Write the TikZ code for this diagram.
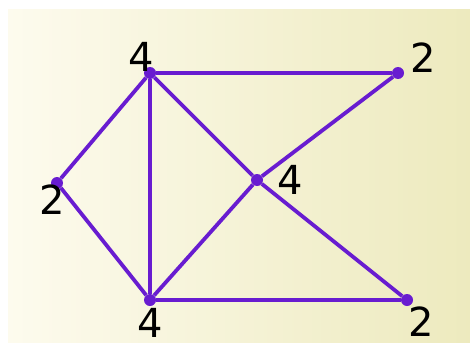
\documentclass[tikz,border=0pt]{standalone}
\usepackage{fontspec}
\setmainfont{DejaVu Sans}
\definecolor{edgec}{RGB}{104,28,208}
\definecolor{bgl}{RGB}{253,251,238}
\definecolor{bgr}{RGB}{237,234,190}
\begin{document}
\begin{tikzpicture}[x=1pt,y=-1pt,
  vtx/.style={circle,fill=edgec,inner sep=0pt,minimum size=12pt},
  lbl/.style={font=\fontsize{40}{44}\selectfont,inner sep=0pt,text=black},
  edge/.style={draw=edgec,line width=3.8pt}]
\useasboundingbox (0,0) rectangle (470,350);
\fill[white] (0,0) rectangle (470,350);
\shade[left color=bgl,right color=bgr] (8,10) rectangle (470,342);
\node[vtx] (A) at (150,73) {};
\node[vtx] (B) at (398,73) {};
\node[vtx] (C) at (57,183) {};
\node[vtx] (D) at (257,180) {};
\node[vtx] (E) at (150,300) {};
\node[vtx] (F) at (407,300) {};
\draw[edge] (A) -- (B);
\draw[edge] (A) -- (C);
\draw[edge] (A) -- (E);
\draw[edge] (A) -- (D);
\draw[edge] (D) -- (F);
\draw[edge] (B) -- (D);
\draw[edge] (D) -- (E);
\draw[edge] (C) -- (E);
\draw[edge] (E) -- (F);
\node[lbl] (la) at (141,57) {4};
\node[lbl] (lb) at (423,58) {2};
\node[lbl] (ld) at (290,180) {4};
\node[lbl] (lc) at (52,200) {2};
\node[lbl] (le) at (150,323) {4};
\node[lbl] (lf) at (421,322) {2};
\end{tikzpicture}
\end{document}
